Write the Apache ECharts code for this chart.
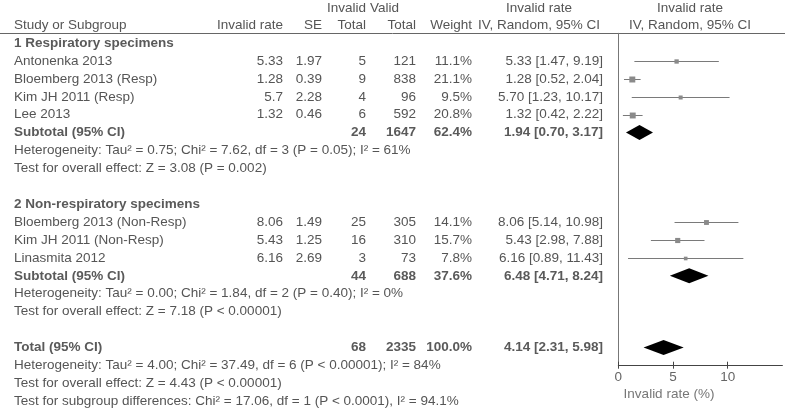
<!DOCTYPE html>
<html>
<head>
<meta charset="utf-8">
<script src="https://cdn.jsdelivr.net/npm/echarts@6/dist/echarts.min.js"></script>
<style>
  html, body { margin: 0; padding: 0; background: #fff; }
  #chart { width: 787px; height: 412px; }
</style>
</head>
<body>
<div id="chart"></div>
<script>
// ---- data ----
var groupNames = ['1 Respiratory specimens', '2 Non-respiratory specimens'];
var studyNames = ['Antonenka 2013', 'Bloemberg 2013 (Resp)', 'Kim JH 2011 (Resp)', 'Lee 2013',
  'Bloemberg 2013 (Non-Resp)', 'Kim JH 2011 (Non-Resp)', 'Linasmita 2012'];
var studyGroup = [0, 0, 0, 0, 1, 1, 1];
var rateText = ['5.33', '1.28', '5.7', '1.32', '8.06', '5.43', '6.16'];
var seText = ['1.97', '0.39', '2.28', '0.46', '1.49', '1.25', '2.69'];
var invalidTotal = [5, 9, 4, 6, 25, 16, 3];
var validTotal = [121, 838, 96, 592, 305, 310, 73];
var weights = [11.1, 21.1, 9.5, 20.8, 14.1, 15.7, 7.8];
var estimate = [5.33, 1.28, 5.70, 1.32, 8.06, 5.43, 6.16];
var lower = [1.47, 0.52, 1.23, 0.42, 5.14, 2.98, 0.89];
var upper = [9.19, 2.04, 10.17, 2.22, 10.98, 7.88, 11.43];

var pooledNames = ['Subtotal (95% CI)', 'Subtotal (95% CI)', 'Total (95% CI)'];
var pooledInvalid = [24, 44, 68];
var pooledValid = [1647, 688, 2335];
var pooledWeight = [62.4, 37.6, 100.0];
var pooledEst = [1.94, 6.48, 4.14];
var pooledLower = [0.70, 4.71, 2.31];
var pooledUpper = [3.17, 8.24, 5.98];

var groupNotes = [
  ['Heterogeneity: Tau\u00b2 = 0.75; Chi\u00b2 = 7.62, df = 3 (P = 0.05); I\u00b2 = 61%',
   'Test for overall effect: Z = 3.08 (P = 0.002)'],
  ['Heterogeneity: Tau\u00b2 = 0.00; Chi\u00b2 = 1.84, df = 2 (P = 0.40); I\u00b2 = 0%',
   'Test for overall effect: Z = 7.18 (P < 0.00001)']
];
var totalNotes = [
  'Heterogeneity: Tau\u00b2 = 4.00; Chi\u00b2 = 37.49, df = 6 (P < 0.00001); I\u00b2 = 84%',
  'Test for overall effect: Z = 4.43 (P < 0.00001)',
  'Test for subgroup differences: Chi\u00b2 = 17.06, df = 1 (P < 0.0001), I\u00b2 = 94.1%'
];
var axisTicks = [0, 5, 10];
var axisTitle = 'Invalid rate (%)';

// ---- layout ----
var FONT = 'Liberation Sans';
var FONT_SIZE = 13.5;
var TEXT = '#555';
var col = {name: 14, rate: 283, se: 322, inv: 366, validHead: 370, valid: 416, weight: 472, ci: 603, ciHead: 539, plotHead: 690};

function ci(e, l, u) {
  return e.toFixed(2) + ' [' + l.toFixed(2) + ', ' + u.toFixed(2) + ']';
}

// build table rows
var cells = [];
function cell(x, r, t, a, b, color) {
  cells.push({x: x, r: r, t: t, a: a, b: !!b, color: color});
}
var H1 = -1.96, H2 = -1.01;
cell(col.inv, H1, 'Invalid', 'right');
cell(col.validHead, H1, 'Valid', 'left');
cell(col.ciHead, H1, 'Invalid rate', 'center');
cell(col.plotHead, H1, 'Invalid rate', 'center');
cell(col.name, H2, 'Study or Subgroup', 'left');
cell(col.rate, H2, 'Invalid rate', 'right');
cell(col.se, H2, 'SE', 'right');
cell(col.inv, H2, 'Total', 'right');
cell(col.valid, H2, 'Total', 'right');
cell(col.weight, H2, 'Weight', 'right');
cell(col.ciHead, H2, 'IV, Random, 95% CI', 'center');
cell(col.plotHead, H2, 'IV, Random, 95% CI', 'center');

var studyPts = [], diamondPts = [];
var row = 0;
function pooledRow(k, r) {
  cell(col.name, r, pooledNames[k], 'left', true);
  cell(col.inv, r, String(pooledInvalid[k]), 'right', true);
  cell(col.valid, r, String(pooledValid[k]), 'right', true);
  cell(col.weight, r, pooledWeight[k].toFixed(1) + '%', 'right', true);
  cell(col.ci, r, ci(pooledEst[k], pooledLower[k], pooledUpper[k]), 'right', true);
  diamondPts.push([pooledEst[k], r, pooledLower[k], pooledUpper[k]]);
}
groupNames.forEach(function (g, gi) {
  cell(col.name, row, g, 'left', true);
  row++;
  studyNames.forEach(function (s, i) {
    if (studyGroup[i] !== gi) return;
    cell(col.name, row, s, 'left');
    cell(col.rate, row, rateText[i], 'right');
    cell(col.se, row, seText[i], 'right');
    cell(col.inv, row, String(invalidTotal[i]), 'right');
    cell(col.valid, row, String(validTotal[i]), 'right');
    cell(col.weight, row, weights[i].toFixed(1) + '%', 'right');
    cell(col.ci, row, ci(estimate[i], lower[i], upper[i]), 'right');
    studyPts.push([estimate[i], row, lower[i], upper[i], weights[i]]);
    row++;
  });
  pooledRow(gi, row);
  row++;
  groupNotes[gi].forEach(function (n) { cell(col.name, row, n, 'left'); row++; });
  row++; // blank line
});
pooledRow(2, row);
row++;
totalNotes.forEach(function (n) { cell(col.name, row, n, 'left'); row++; });
cell(669, 19.6, axisTitle, 'center', false, '#777');

function renderText(params, api) {
  var c = cells[api.value(2)];
  var p = api.coord([api.value(0), api.value(1)]);
  return {
    type: 'text', x: p[0], y: p[1],
    style: {
      text: c.t, textAlign: c.a, verticalAlign: 'middle', textVerticalAlign: 'middle',
      fontFamily: FONT, fontSize: FONT_SIZE, fontWeight: c.b ? 'bold' : 'normal',
      fill: c.color || (c.b ? '#5a5a5a' : TEXT)
    }
  };
}

function renderStudy(params, api) {
  var r = api.value(1);
  var a = api.coord([api.value(2), r]);
  var b = api.coord([api.value(3), r]);
  var c = api.coord([api.value(0), r]);
  var y = Math.round(c[1]) + 0.5;
  var s = Math.max(3, 1.3 * Math.sqrt(api.value(4)));
  return {
    type: 'group',
    children: [
      {type: 'line', shape: {x1: a[0], y1: y, x2: b[0], y2: y}, style: {stroke: '#7a7a7a', lineWidth: 1}},
      {type: 'rect', shape: {x: c[0] - s / 2, y: y - s / 2, width: s, height: s}, style: {fill: '#8a8a8a'}}
    ]
  };
}

function renderDiamond(params, api) {
  var r = api.value(1);
  var l = api.coord([api.value(2), r]);
  var u = api.coord([api.value(3), r]);
  var c = api.coord([api.value(0), r]);
  var h = 7.5;
  return {
    type: 'polygon',
    shape: {points: [[l[0], c[1]], [c[0], c[1] - h], [u[0], c[1]], [c[0], c[1] + h]]},
    style: {fill: '#000'}
  };
}

var chart = echarts.init(document.getElementById('chart'));
chart.setOption({
  animation: false,
  backgroundColor: '#fff',
  grid: [
    {left: 618.3, top: 33.3, width: 164.1, height: 332.4},
    {left: 0, top: 0, width: 787, height: 412}
  ],
  xAxis: [
    {
      gridIndex: 0, type: 'value', min: 0, max: 15, interval: 5, position: 'bottom',
      axisLine: {show: true, onZero: false, lineStyle: {color: '#444', width: 1}},
      axisTick: {show: true, length: 3, customValues: axisTicks, lineStyle: {color: '#444'}},
      axisLabel: {customValues: axisTicks, margin: 5, color: '#666', fontSize: FONT_SIZE, fontFamily: FONT},
      splitLine: {show: false}
    },
    {
      gridIndex: 0, type: 'value', min: 0, max: 15, interval: 5, position: 'bottom',
      axisLine: {show: false, onZero: false},
      axisTick: {show: true, inside: true, length: 4, customValues: axisTicks, lineStyle: {color: '#444'}},
      axisLabel: {show: false},
      splitLine: {show: false}
    },
    {gridIndex: 1, type: 'value', min: 0, max: 787, show: false}
  ],
  yAxis: [
    {
      gridIndex: 0, type: 'value', inverse: true, min: -0.547, max: 18.02,
      axisLine: {show: true, onZero: false, lineStyle: {color: '#777', width: 1}},
      axisTick: {show: false}, axisLabel: {show: false}, splitLine: {show: false}
    },
    {gridIndex: 1, type: 'value', inverse: true, min: -2.408, max: 20.61, show: false}
  ],
  graphic: [
    {type: 'line', shape: {x1: 0, y1: 33.5, x2: 785, y2: 33.5}, style: {stroke: '#666', lineWidth: 1}, silent: true}
  ],
  series: [
    {
      type: 'custom', xAxisIndex: 2, yAxisIndex: 1, silent: true,
      renderItem: renderText,
      data: cells.map(function (c, i) { return [c.x, c.r, i]; })
    },
    {
      type: 'custom', xAxisIndex: 0, yAxisIndex: 0, silent: true,
      renderItem: renderStudy, data: studyPts
    },
    {
      type: 'custom', xAxisIndex: 0, yAxisIndex: 0, silent: true,
      renderItem: renderDiamond, data: diamondPts
    }
  ]
});
</script>
</body>
</html>
